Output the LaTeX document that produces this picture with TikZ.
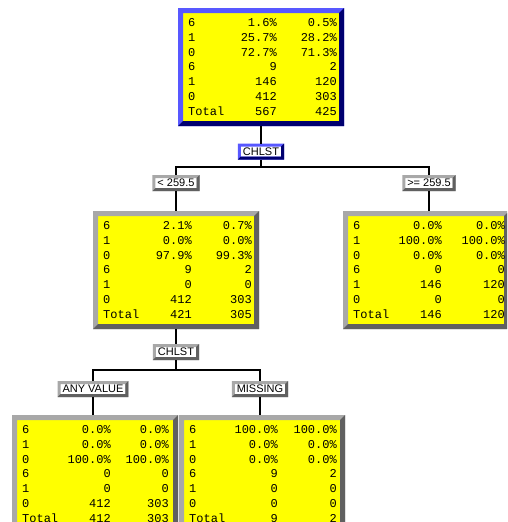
\documentclass[tikz,border=0pt]{standalone}
\usepackage{fontspec}
\setmainfont{Liberation Sans}
\newfontfamily\monofnt{Liberation Mono}
\definecolor{boxyellow}{HTML}{FFFF00}
\definecolor{glight}{HTML}{A8A8A8}
\definecolor{gdark}{HTML}{606060}
\definecolor{blight}{HTML}{5858FF}
\definecolor{bdark}{HTML}{000070}
\tikzset{
  databox/.style={fill=boxyellow, minimum width=156pt, minimum height=108pt, outer sep=5pt, inner sep=0pt, anchor=north west},
  celltext/.style={font=\monofnt\fontsize{12}{12}\selectfont, inner sep=0pt, text height=7pt, text depth=0pt},
  tag/.style={fill=white, font=\fontsize{11}{11}\selectfont, inner xsep=2pt, inner ysep=0.5pt, outer sep=3pt, text height=8pt, text depth=1pt},
  link/.style={line width=2pt, black},
}
\newcommand\bevelframe[4]{%
  \fill[#2, even odd rule] (#1.north west) rectangle (#1.south east)
    ([shift={(#4,#4)}]#1.north west) rectangle ([shift={(-#4,-#4)}]#1.south east);
  \fill[#3] (#1.north east) -- (#1.south east) -- (#1.south west)
    -- ([shift={(#4,-#4)}]#1.south west) -- ([shift={(-#4,-#4)}]#1.south east)
    -- ([shift={(-#4,#4)}]#1.north east) -- cycle;
}
\newcommand\databoxdraw[7]{%
  \node[databox] (#1) at (#2,#3) {};
  \bevelframe{#1}{#4}{#5}{5}
  \foreach \a/\b/\c [count=\i] in {#7} {
    \node[celltext, anchor=west] (#1-\i-a) at ([shift={(10,{15+(\i-1)*14.8})}]#1.north west) {\a};
    \node[celltext, anchor=east] (#1-\i-b) at ([shift={(99,{15+(\i-1)*14.8})}]#1.north west) {\b};
    \node[celltext, anchor=east] (#1-\i-c) at ([shift={(#6,{15+(\i-1)*14.8})}]#1.north west) {\c};
  }
}
\newcommand\tagnode[5]{%
  \node[tag] (#1) at (#2,#3) {#4};
  \bevelframe{#1}{#5light}{#5dark}{3}
}
\begin{document}
\begin{tikzpicture}[x=1pt,y=-1pt]
\useasboundingbox (0,0) rectangle (507,522);
\clip (0,0) rectangle (507,522);
\fill[white] (0,0) rectangle (507,522);

\databoxdraw{root}{178}{8}{blight}{bdark}{159}{6/1.6\%/0.5\%, 1/25.7\%/28.2\%, 0/72.7\%/71.3\%, 6/9/2, 1/146/120, 0/412/303, Total/567/425}
\databoxdraw{left}{93}{211}{glight}{gdark}{159}{6/2.1\%/0.7\%, 1/0.0\%/0.0\%, 0/97.9\%/99.3\%, 6/9/2, 1/0/0, 0/412/303, Total/421/305}
\databoxdraw{right}{343}{211}{glight}{gdark}{162}{6/0.0\%/0.0\%, 1/100.0\%/100.0\%, 0/0.0\%/0.0\%, 6/0/0, 1/146/120, 0/0/0, Total/146/120}
\databoxdraw{bl}{12}{415}{glight}{gdark}{157}{6/0.0\%/0.0\%, 1/0.0\%/0.0\%, 0/100.0\%/100.0\%, 6/0/0, 1/0/0, 0/412/303, Total/412/303}
\databoxdraw{br}{179}{415}{glight}{gdark}{158}{6/100.0\%/100.0\%, 1/0.0\%/0.0\%, 0/0.0\%/0.0\%, 6/9/2, 1/0/0, 0/0/0, Total/9/2}

\tagnode{s1}{261}{151.5}{CHLST}{b}
\tagnode{lt}{176}{183}{< 259.5}{g}
\tagnode{ge}{429}{183}{>= 259.5}{g}
\tagnode{s2}{176}{352}{CHLST}{g}
\tagnode{anyv}{93}{389}{ANY VALUE}{g}
\tagnode{miss}{260}{389}{MISSING}{g}

\coordinate (j1) at (261,167);
\coordinate (j2) at (176,370);
\draw[link] (root.south) -- (s1.north);
\draw[link] (s1.south) -- (j1);
\draw[link] (lt.north) -- (lt.north |- j1) -- (ge.north |- j1) -- (ge.north);
\draw[link] (lt.south) -- (lt.south |- left.north);
\draw[link] (ge.south) -- (ge.south |- right.north);
\draw[link] (left.south) -- (s2.north);
\draw[link] (s2.south) -- (j2);
\draw[link] (anyv.north) -- (anyv.north |- j2) -- (miss.north |- j2) -- (miss.north);
\draw[link] (anyv.south) -- (anyv.south |- bl.north);
\draw[link] (miss.south) -- (miss.south |- br.north);
\end{tikzpicture}
\end{document}
